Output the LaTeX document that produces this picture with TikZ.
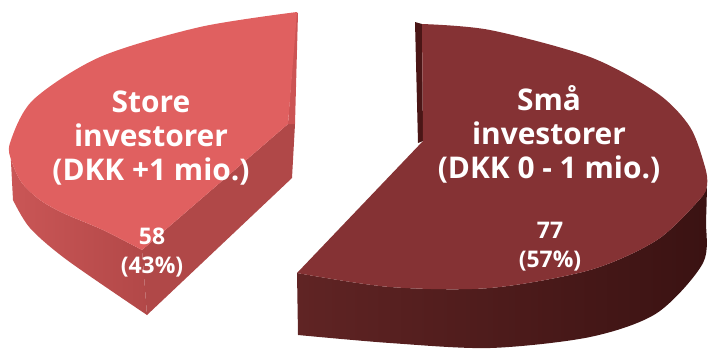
\documentclass[tikz,border=0pt]{standalone}
\usepackage{fontspec}
\setmainfont{Open Sans}
\definecolor{storetop}{RGB}{224,96,96}
\definecolor{storeedge}{RGB}{204,84,84}
\definecolor{storecut}{RGB}{176,72,72}
\definecolor{storesidel}{RGB}{202,86,86}
\definecolor{storesider}{RGB}{178,72,72}
\definecolor{smatop}{RGB}{133,50,52}
\definecolor{smacut}{RGB}{74,22,22}
\definecolor{smasidel}{RGB}{96,36,36}
\definecolor{smasider}{RGB}{58,18,18}

\begin{document}
\begin{tikzpicture}[
  x=1bp, y=-1bp,
  bigtag/.style={text=white, font=\fontsize{30}{34}\selectfont\bfseries, align=center, anchor=base, inner sep=0pt},
  valtag/.style={text=white, font=\fontsize{23}{29}\selectfont\bfseries, align=center, anchor=base, inner sep=0pt}
]
  \useasboundingbox (0,0) rectangle (713,352);

  \shade[left color=storesidel, right color=storesider] plot[smooth] coordinates {(10,143) (12,162) (22,183) (40,200) (63,213) (103,230) (142,250)} -- (147,315) -- plot[smooth] coordinates {(147,315) (67,260) (30,228) (13,200)} -- cycle;
  \fill[storecut] (288,124) -- (295,124) -- (292,178) -- (147,315) -- (142,250) -- cycle;
  \fill[storeedge] (296,12) -- (298,13) -- (295,124) -- (288,124) -- cycle;
  \fill[storetop] plot[smooth] coordinates {(297,12) (200,27) (100,57) (33,100) (10,143) (12,162) (22,183) (40,200) (63,213) (103,230) (142,250)} -- (288,124) -- cycle;

  \shade[left color=smasidel, right color=smasider] plot[smooth] coordinates {(297,273) (390,287) (490,288) (590,270) (657,240) (700,199) (707,185)} -- plot[smooth] coordinates {(707,185) (706,220) (703,263) (657,313) (590,337) (490,348) (390,343) (298,335)} -- cycle;
  \fill[smacut] (415,22) -- (422,24) -- (423,141) -- (418,143) -- cycle;
  \fill[smatop] plot[smooth] coordinates {(422,24) (490,30) (590,57) (657,93) (690,127) (705,167) (707,185) (700,199) (657,240) (590,270) (490,288) (390,287) (297,273)} -- (423,141) -- cycle;

  \node (storename) [bigtag] at (151,180) {Store\\investorer\\(DKK +1 mio.)};
  \node (storeval) [valtag] at (152,273) {58\\(43\%)};
  \node (smaname) [bigtag] at (549,178) {Små\\investorer\\(DKK 0 - 1 mio.)};
  \node (smaval) [valtag] at (550,267) {77\\(57\%)};
\end{tikzpicture}
\end{document}
